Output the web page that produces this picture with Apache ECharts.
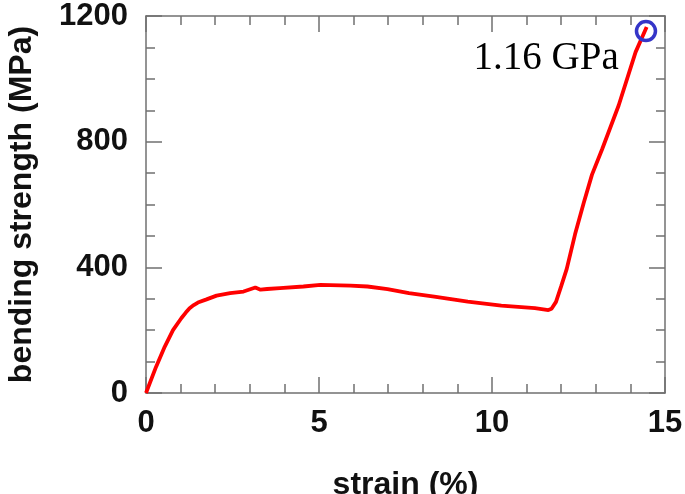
<!DOCTYPE html>
<html>
<head>
<meta charset="utf-8">
<script src="https://cdn.jsdelivr.net/npm/echarts@6/dist/echarts.min.js"></script>
<style>
html,body{margin:0;padding:0;background:#fff;}
#chart{width:685px;height:494px;}
</style>
</head>
<body>
<div id="chart"></div>
<script>
var strain = [0, 0.29, 0.54, 0.78, 1.02, 1.15, 1.26, 1.38, 1.50, 1.75, 2.04, 2.43, 2.82, 3.16, 3.31, 3.50, 3.87, 4.55, 5.04, 5.91, 6.40, 6.98, 7.60, 8.33, 9.30, 10.27, 11.24, 11.63, 11.72, 11.85, 12.00, 12.16, 12.40, 12.65, 12.89, 13.18, 13.66, 14.15, 14.47];
var stress = [0, 83, 147, 200, 238, 256, 270, 280, 288, 298, 310, 318, 323, 336, 329, 331, 334, 339, 344, 342, 339, 331, 318, 307, 291, 278, 270, 264, 268, 290, 340, 395, 505, 605, 695, 775, 915, 1085, 1165];
var peak = [14.45, 1152];
var peakLabel = "1.16 GPa";
var xTitle = "strain (%)";
var yTitle = "bending strength (MPa)";

var axisColor = '#707070';
var lineData = strain.map(function (s, i) { return [s, stress[i]]; });

function xAxisCfg(pos, showLabel) {
  return {
    type: 'value', position: pos, min: 0, max: 15, interval: 5,
    name: showLabel ? xTitle : '', nameLocation: 'middle', nameGap: 76,
    nameTextStyle: { fontFamily: 'Liberation Sans', fontWeight: 'bold', fontSize: 32, color: '#111' },
    axisLine: { show: true, onZero: false, lineStyle: { color: axisColor, width: 1.5 } },
    axisTick: { show: true, inside: true, length: 16, lineStyle: { color: axisColor, width: 1.5 } },
    minorTick: { show: true, splitNumber: 5, length: 9, lineStyle: { color: axisColor, width: 1.5 } },
    axisLabel: { show: showLabel, margin: 15, fontFamily: 'Liberation Sans', fontWeight: 'bold', fontSize: 31, color: '#111',
      formatter: function (v) { return String(v); } },
    splitLine: { show: false }, minorSplitLine: { show: false }
  };
}
function yAxisCfg(pos, showLabel) {
  return {
    type: 'value', position: pos, min: 0, max: 1200, interval: 400,
    name: showLabel ? yTitle : '', nameLocation: 'middle', nameGap: 108,
    nameTextStyle: { fontFamily: 'Liberation Sans', fontWeight: 'bold', fontSize: 32, color: '#111' },
    axisLine: { show: true, onZero: false, lineStyle: { color: axisColor, width: 1.5 } },
    axisTick: { show: true, inside: true, length: 16, lineStyle: { color: axisColor, width: 1.5 } },
    minorTick: { show: true, splitNumber: 4, length: 9, lineStyle: { color: axisColor, width: 1.5 } },
    axisLabel: { show: showLabel, margin: 18, fontFamily: 'Liberation Sans', fontWeight: 'bold', fontSize: 31, color: '#111',
      formatter: function (v) { return String(v); } },
    splitLine: { show: false }, minorSplitLine: { show: false }
  };
}

var chart = echarts.init(document.getElementById('chart'), null, { renderer: 'canvas' });
chart.setOption({
  backgroundColor: '#fff',
  animation: false,
  grid: { left: 146, right: 20, top: 16, bottom: 101, containLabel: false, outerBoundsMode: 'none' },
  xAxis: [xAxisCfg('bottom', true), xAxisCfg('top', false)],
  yAxis: [yAxisCfg('left', true), yAxisCfg('right', false)],
  series: [
    {
      type: 'line', data: lineData, showSymbol: false, symbol: 'none',
      lineStyle: { color: '#ff0000', width: 3.8 }, z: 2
    },
    {
      type: 'scatter', data: [peak], symbol: 'circle', symbolSize: 19,
      itemStyle: { color: 'rgba(0,0,0,0)', borderColor: '#3535c8', borderWidth: 3.5, opacity: 1 },
      label: {
        show: true, position: 'left', distance: 16, offset: [0, 28],
        formatter: peakLabel, fontFamily: 'Liberation Serif', fontSize: 39, color: '#000',
        textBorderWidth: 0, opacity: 1
      },
      z: 3
    }
  ]
});
</script>
</body>
</html>
